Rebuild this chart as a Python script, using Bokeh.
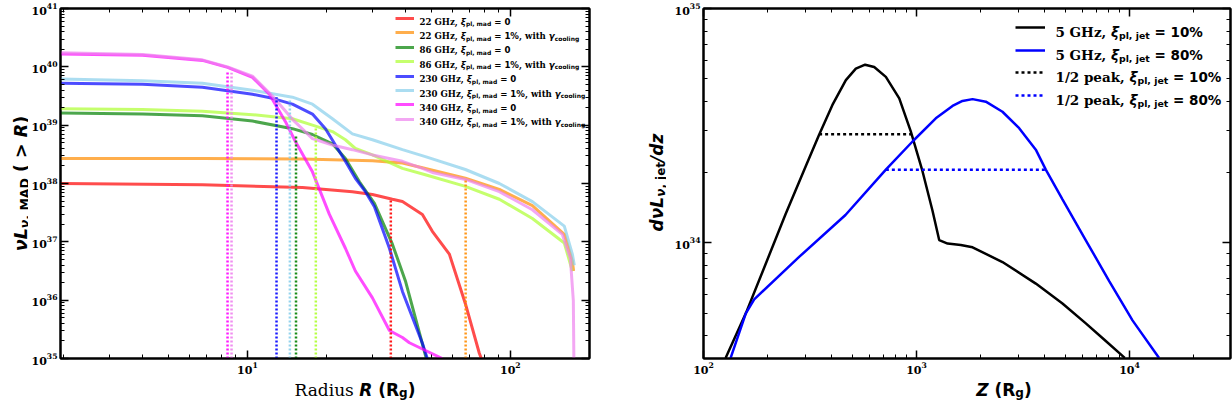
import os
import subprocess
import numpy as np
from bokeh.plotting import figure
from bokeh.models import (LogAxis, FixedTicker, Label, Legend, LegendItem, Range1d,
                          CustomJSTickFormatter)
from bokeh.layouts import row, column
from bokeh.embed import file_html
from bokeh.resources import INLINE

# ---------------- data: left panel (R in R_g, log10 of nu L_nu,MAD(>R)) ----------------
red_R = [1.95, 6.74, 16.19, 25.07, 29.88, 35.59, 38.86, 46.28, 50.5, 58.6, 67.45, 76.2, 78.3]
red_log = [38.0, 37.98, 37.93, 37.86, 37.81, 37.73, 37.69, 37.47, 37.18, 36.79, 35.94, 35.09, 34.95]

orange_R = [1.95, 6.74, 16.19, 29.88, 38.86, 46.28, 67.45, 90.8, 121.3, 160.4, 172.1, 174.0]
orange_log = [38.43, 38.43, 38.42, 38.39, 38.35, 38.27, 38.09, 37.9, 37.62, 37.13, 36.67, 36.5]

green_R = [1.95, 3.99, 6.74, 10.45, 14.83, 17.67, 21.05, 23.58, 26.66, 30.41, 35.59, 39.89, 47.9]
green_log = [39.21, 39.19, 39.16, 39.07, 38.94, 38.84, 38.68, 38.43, 38.03, 37.66, 36.96, 36.33, 35.0]

lime_R = [1.95, 3.99, 6.74, 10.45, 14.83, 17.67, 21.05, 23.58, 25.73, 29.88, 38.86, 47.5, 67.45,
          90.8, 121.3, 160.4, 172.1]
lime_log = [39.28, 39.27, 39.24, 39.18, 39.11, 39.0, 38.89, 38.75, 38.6, 38.49, 38.26, 38.15, 37.95,
            37.73, 37.4, 36.98, 36.5]

blue_R = [1.95, 3.99, 6.74, 10.45, 12.45, 14.83, 17.67, 19.8, 21.61, 23.58, 25.73, 28.1, 30.41,
          34.67, 38.86, 46.28, 48.3]
blue_log = [39.72, 39.7, 39.65, 39.53, 39.46, 39.36, 39.19, 38.94, 38.66, 38.38, 38.09, 37.86, 37.6,
            36.89, 36.15, 35.26, 35.0]

sky_R = [1.95, 3.99, 6.74, 10.45, 14.83, 17.67, 21.05, 25.07, 29.88, 38.86, 47.5, 67.45, 90.8,
         121.3, 160.4, 172.1, 175.1]
sky_log = [39.79, 39.76, 39.72, 39.6, 39.48, 39.36, 39.11, 38.85, 38.75, 38.58, 38.46, 38.24, 38.0,
           37.69, 37.27, 36.79, 36.6]

mag_R = [1.95, 3.99, 6.74, 8.4, 10.45, 12.12, 13.95, 15.22, 17.67, 20.5, 23.58, 25.73, 29.88,
         34.67, 38.86, 41.3, 55.1]
mag_log = [40.22, 40.2, 40.11, 39.99, 39.82, 39.53, 39.06, 38.72, 38.2, 37.47, 36.89, 36.5, 36.04,
           35.48, 35.36, 35.27, 35.0]

violet_R = [1.95, 3.99, 6.74, 8.4, 10.45, 12.45, 14.83, 17.67, 21.05, 25.07, 29.88, 38.86, 46.28,
            50.5, 67.45, 90.8, 121.3, 157.6, 169.1, 173.6, 174.5]
violet_log = [40.24, 40.21, 40.12, 40.0, 39.84, 39.5, 39.1, 38.77, 38.66, 38.58, 38.49, 38.38, 38.26,
              38.19, 38.07, 37.86, 37.55, 37.13, 36.72, 35.99, 34.9]

# half-light radii (vertical dotted lines) and the level where each stops
half_R = [35.1, 67.6, 15.3, 18.2, 12.9, 14.5, 8.4, 8.7]
half_top_log = [37.73, 38.07, 38.84, 38.97, 39.48, 39.45, 39.91, 39.9]

left_freqs = ["22 GHz", "22 GHz", "86 GHz", "86 GHz", "230 GHz", "230 GHz", "340 GHz", "340 GHz"]
left_xi = ["0", "1%", "0", "1%", "0", "1%", "0", "1%"]
left_cool = [False, True, False, True, False, True, False, True]
left_colors = ["red", "darkorange", "green", "greenyellow", "blue", "skyblue", "magenta", "violet"]
left_R = [red_R, orange_R, green_R, lime_R, blue_R, sky_R, mag_R, violet_R]
left_log = [red_log, orange_log, green_log, lime_log, blue_log, sky_log, mag_log, violet_log]

left_x_major = [10, 100]
left_x_minor = [2, 3, 4, 5, 6, 7, 8, 9, 20, 30, 40, 50, 60, 70, 80, 90, 200]
left_y_major = [10.0 ** e for e in range(35, 42)]
left_y_minor = [m * 10.0 ** e for e in range(35, 41) for m in range(2, 10)]

# ---------------- data: right panel (Z in R_g, log10 of d nuL / dz) ----------------
black_z = [127, 158, 196, 243, 302, 349, 403, 466, 519, 574, 633, 718, 830, 940, 1067, 1189, 1278,
           1400, 1614, 1833, 2533, 3632, 4845, 6237, 7622, 9500]
black_log = [33.507, 33.698, 33.910, 34.122, 34.326, 34.461, 34.588, 34.694, 34.743, 34.760, 34.750,
             34.708, 34.616, 34.475, 34.305, 34.136, 34.011, 33.996, 33.990, 33.980, 33.917, 33.825,
             33.740, 33.655, 33.585, 33.508]

blue2_z = [134, 158, 173, 282, 464, 718, 958, 1232, 1476, 1644, 1833, 2116, 2533, 3034, 3632, 4046,
           4845, 6237, 8030, 10330, 13770]
blue2_log = [33.507, 33.698, 33.758, 33.940, 34.118, 34.312, 34.432, 34.531, 34.584, 34.605, 34.613,
             34.602, 34.559, 34.489, 34.397, 34.312, 34.185, 34.010, 33.836, 33.668, 33.507]

half_z_start = [349, 718]
half_z_end = [945, 4046]
half_level = [2.9e34, 2.05e34]

right_names = ["5 GHz, ", "5 GHz, ", "1/2 peak, ", "1/2 peak, "]
right_xi = ["10%", "80%", "10%", "80%"]

right_x_major = [100, 1000, 10000]
right_x_minor = [200, 300, 400, 500, 600, 700, 800, 900, 2000, 3000, 4000, 5000, 6000, 7000,
                 8000, 9000, 20000, 30000]
right_y_major = [1e34, 1e35]
right_y_minor = [4e33, 5e33, 6e33, 7e33, 8e33, 9e33, 2e34, 3e34, 4e34, 5e34, 6e34, 7e34, 8e34, 9e34]

# ---------------- text measuring ----------------
SERIF = ("DejaVu Serif", "normal", "Book")
SERIF_B = ("DejaVu Serif", "bold", "Bold")
SANS_B = ("DejaVu Sans", "bold", "Bold")
SANS_BI = ("DejaVu Sans", "bold italic", "Bold Oblique")

try:
    from PIL import ImageFont
except Exception:
    ImageFont = None

_paths = {}


def _font_file(fam, fcs):
    key = (fam, fcs)
    if key in _paths:
        return _paths[key]
    path = None
    try:
        out = subprocess.run(["fc-match", "-f", "%{file}", f"{fam}:style={fcs}"],
                             capture_output=True, text=True, timeout=10).stdout.strip()
        if out and os.path.exists(out) and "DejaVu" in out:
            path = out
    except Exception:
        pass
    if path is None:
        fname = fam.replace(" ", "") + ("" if fcs == "Book" else "-" + fcs.replace(" ", "")) + ".ttf"
        for d in ["/usr/share/fonts/truetype/dejavu", "/usr/share/fonts/dejavu",
                  "/usr/share/fonts/TTF", "/usr/share/fonts/truetype"]:
            c = os.path.join(d, fname)
            if os.path.exists(c):
                path = c
                break
    _paths[key] = path
    return path


_fonts = {}


def text_w(txt, st, size):
    path = _font_file(st[0], st[2])
    if path and ImageFont is not None:
        key = (path, size)
        if key not in _fonts:
            try:
                _fonts[key] = ImageFont.truetype(path, int(round(size * 20)))
            except Exception:
                _fonts[key] = None
        f = _fonts[key]
        if f is not None:
            return f.getlength(txt) / 20.0
    return 0.62 * size * len(txt)


def rich(p, parts, x, y, angle=0.0, align="left"):
    total = sum(text_w(t, st, s) for t, st, s, _ in parts)
    adv = -total / 2.0 if align == "center" else 0.0
    for t, st, s, shift in parts:
        core = t.strip(" ")
        lead = len(t) - len(t.lstrip(" "))
        trail = len(t) - len(t.rstrip(" "))
        if not core:
            adv += text_w(t, st, s)
            continue
        if lead:
            adv += text_w(" " * lead, st, s)
        if angle == 0:
            lx, ly = x + adv, y + shift
        else:
            lx, ly = x - shift, y + adv
        p.add_layout(Label(x=lx, y=ly, x_units="screen", y_units="screen", text=core, angle=angle,
                           text_font=st[0], text_font_style=st[1], text_font_size=f"{s}px",
                           text_baseline="alphabetic", text_align="left", text_color="black"))
        adv += text_w(core, st, s)
        if trail:
            adv += text_w(" " * trail, st, s)


# ---------------- figures ----------------
FT = 8            # frame top (page px)
FH = 350          # frame height
BB = 18           # room for x tick labels
XLAB_H = 400 - (FT + FH + BB)


def make_fig(xr, yr, fw, bl, br):
    p = figure(x_axis_type="log", y_axis_type="log", x_range=Range1d(*xr), y_range=Range1d(*yr),
               width=bl + fw + br, height=FT + FH + BB, frame_width=fw, frame_height=FH,
               min_border_left=bl, min_border_right=br, min_border_top=FT, min_border_bottom=BB,
               output_backend="svg", toolbar_location=None)
    p.xgrid.visible = False
    p.ygrid.visible = False
    p.outline_line_color = "black"
    p.outline_line_width = 2
    p.background_fill_color = "white"
    p.border_fill_color = "white"
    return p


def label_fig(w, h):
    f = figure(width=w, height=h, x_range=Range1d(0, 1), y_range=Range1d(0, 1),
               x_axis_location=None, y_axis_location=None, min_border=0, min_border_left=0,
               min_border_right=0, min_border_top=0, min_border_bottom=0,
               output_backend="svg", toolbar_location=None)
    f.xgrid.visible = False
    f.ygrid.visible = False
    f.outline_line_color = None
    f.background_fill_color = "white"
    f.border_fill_color = "white"
    return f


def style_axis(ax, labels=True):
    ax.axis_line_width = 2
    ax.axis_line_color = "black"
    ax.major_tick_in = 8
    ax.major_tick_out = 0
    ax.minor_tick_in = 4
    ax.minor_tick_out = 0
    ax.major_tick_line_width = 1.5
    ax.minor_tick_line_width = 1
    ax.major_tick_line_color = "black"
    ax.minor_tick_line_color = "black"
    ax.major_label_text_font = "DejaVu Serif"
    ax.major_label_text_font_style = "bold"
    ax.major_label_text_font_size = "11px"
    ax.major_label_text_color = "black"
    ax.major_label_standoff = 3
    if not labels:
        ax.formatter = CustomJSTickFormatter(code="return '';")
        ax.major_label_text_font_size = "1px"
        ax.major_label_standoff = 0


def setup_axes(p, xmaj, xmin, ymaj, ymin):
    p.xaxis[0].ticker = FixedTicker(ticks=xmaj, minor_ticks=xmin)
    p.yaxis[0].ticker = FixedTicker(ticks=ymaj, minor_ticks=ymin)
    style_axis(p.xaxis[0])
    style_axis(p.yaxis[0])
    top = LogAxis(ticker=FixedTicker(ticks=xmaj, minor_ticks=xmin))
    style_axis(top, False)
    p.add_layout(top, "above")
    right = LogAxis(ticker=FixedTicker(ticks=ymaj, minor_ticks=ymin))
    style_axis(right, False)
    p.add_layout(right, "right")


def row_legend(p, r, gx, gw, gh, center_page_y):
    vy = FH - (center_page_y - FT) - gh / 2.0
    leg = Legend(items=[LegendItem(label=" ", renderers=[r])], location=(gx, vy),
                 orientation="vertical", padding=0, margin=0, spacing=0, glyph_width=gw,
                 glyph_height=gh, label_height=gh, label_width=0, label_standoff=0,
                 label_text_font_size="4px", border_line_alpha=0, background_fill_alpha=0)
    p.add_layout(leg)


# ---- page layout (px) ----
YL1_W = 28                      # left y-label strip
BL1, FW1, BR1 = 30, 529, 10     # left plot: frame 58..587
YL2_W = 67                      # right y-label strip (597..664)
BL2, FW2, BR2 = 37, 527, 4      # right plot: frame 701..1228
P1_X = YL1_W
F1_X = P1_X + BL1
P2_X = P1_X + BL1 + FW1 + BR1 + YL2_W
F2_X = P2_X + BL2

# ---- left panel ----
p1 = make_fig((1.945, 200), (1e35, 1e41), FW1, BL1, BR1)
setup_axes(p1, left_x_major, left_x_minor, left_y_major, left_y_minor)

left_renderers = []
for R, lg, c in zip(left_R, left_log, left_colors):
    r = p1.line(R, 10.0 ** np.array(lg), line_color=c, line_width=3, line_alpha=0.7)
    left_renderers.append(r)

ybot = p1.y_range.start
p1.segment(x0=half_R, y0=[ybot] * len(half_R), x1=half_R, y1=list(10.0 ** np.array(half_top_log)),
           line_color=left_colors, line_width=2.5, line_dash="2 2", line_alpha=0.9)

f1 = 8.6
sub1 = round(f1 * 0.7, 1)
for i in range(8):
    cpy = 18 + 14.4 * i          # row centre, page y
    row_legend(p1, left_renderers[i], 393 - F1_X, 19, 10, cpy)
    base = FH - (cpy - FT) - 0.35 * f1
    parts = [(left_freqs[i] + ", ", SERIF_B, f1, 0), ("ξ", SANS_BI, f1, 0),
             ("pl, mad", SANS_B, sub1, -0.25 * f1), (" = " + left_xi[i], SANS_B, f1, 0)]
    if left_cool[i]:
        parts += [(", with ", SERIF_B, f1, 0), ("γ", SANS_BI, f1, 0),
                  ("cooling", SANS_B, sub1, -0.25 * f1)]
    rich(p1, parts, 417 - F1_X, base)

# x label strip under left plot
x1 = label_fig(BL1 + FW1 + BR1, XLAB_H)
rich(x1, [("Radius ", SERIF, 17, 0), ("R", SANS_BI, 17, 0), (" (R", SANS_B, 17, 0),
          ("g", SANS_B, 12, -3.5), (")", SANS_B, 17, 0)], BL1 + FW1 / 2.0, 400 - 389,
     align="center")

# y label strip left of left plot
y1 = label_fig(YL1_W, 400)
rich(y1, [("ν", SANS_BI, 17.5, 0), ("L", SANS_BI, 17.5, 0), ("ν", SANS_BI, 12.5, -4),
          (", MAD", SANS_B, 12.5, -4), (" ( > ", SANS_B, 17.5, 0), ("R", SANS_BI, 17.5, 0),
          (")", SANS_B, 17.5, 0)], 20, 400 - 183, angle=np.pi / 2, align="center")

# ---- right panel ----
p2 = make_fig((100, 2.98e4), (3.2e33, 1e35), FW2, BL2, BR2)
setup_axes(p2, right_x_major, right_x_minor, right_y_major, right_y_minor)

rb = p2.line(black_z, 10.0 ** np.array(black_log), line_color="black", line_width=2.5)
rbl = p2.line(blue2_z, 10.0 ** np.array(blue2_log), line_color="blue", line_width=2.5)
rd1 = p2.line([half_z_start[0], half_z_end[0]], [half_level[0], half_level[0]],
              line_color="black", line_width=2.5, line_dash="3 3")
rd2 = p2.line([half_z_start[1], half_z_end[1]], [half_level[1], half_level[1]],
              line_color="blue", line_width=2.5, line_dash="3 3")

f2 = 13.5
sub2 = round(f2 * 0.7, 1)
for i, r in enumerate([rb, rbl, rd1, rd2]):
    cpy = 27 + 22.6 * i
    row_legend(p2, r, 1013 - F2_X, 30, 16, cpy)
    base = FH - (cpy - FT) - 0.35 * f2
    parts = [(right_names[i], SERIF_B, f2, 0), ("ξ", SANS_BI, f2, 0),
             ("pl, jet", SANS_B, sub2, -0.25 * f2), (" = " + right_xi[i], SANS_B, f2, 0)]
    rich(p2, parts, 1053 - F2_X, base)

x2 = label_fig(BL2 + FW2 + BR2, XLAB_H)
rich(x2, [("Z", SANS_BI, 17, 0), (" (R", SANS_B, 17, 0), ("g", SANS_B, 12, -3.5),
          (")", SANS_B, 17, 0)], BL2 + FW2 / 2.0, 400 - 389, align="center")

y2 = label_fig(YL2_W, 400)
rich(y2, [("dνL", SANS_BI, 17, 0), ("ν", SANS_BI, 12, -4), (", jet", SANS_B, 12, -4),
          ("/dz", SANS_BI, 17, 0)], 654 - (P2_X - YL2_W), 400 - 182, angle=np.pi / 2,
     align="center")

layout = row(y1, column(p1, x1), y2, column(p2, x2))
open("out.html", "w").write(file_html(layout, INLINE))
